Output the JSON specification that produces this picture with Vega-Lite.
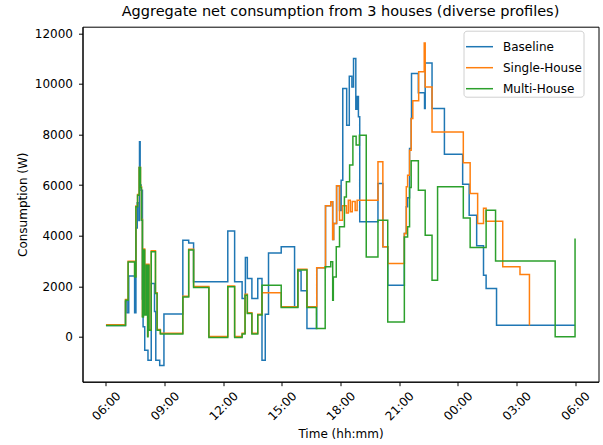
{
  "$schema": "https://vega.github.io/schema/vega-lite/v6.json",
  "width": 516,
  "height": 355,
  "autosize": {"type": "none"},
  "padding": {"left": 82.5, "top": 26.7, "right": 4.5, "bottom": 63.3},
  "background": "#ffffff",
  "title": {"text": "Aggregate net consumption from 3 houses (diverse profiles)", "fontSize": 14.5, "fontWeight": "normal", "font": "DejaVu Sans", "anchor": "middle", "offset": 7, "color": "#000000"},
  "data": {"values": [
    {"series": "Baseline", "time": "2024-01-01T06:00", "W": 450},
    {"series": "Baseline", "time": "2024-01-01T07:00", "W": 1400},
    {"series": "Baseline", "time": "2024-01-01T07:05", "W": 950},
    {"series": "Baseline", "time": "2024-01-01T07:10", "W": 2410},
    {"series": "Baseline", "time": "2024-01-01T07:28", "W": 950},
    {"series": "Baseline", "time": "2024-01-01T07:32", "W": 4300},
    {"series": "Baseline", "time": "2024-01-01T07:36", "W": 5300},
    {"series": "Baseline", "time": "2024-01-01T07:41", "W": 4600},
    {"series": "Baseline", "time": "2024-01-01T07:43", "W": 7710},
    {"series": "Baseline", "time": "2024-01-01T07:45", "W": 6000},
    {"series": "Baseline", "time": "2024-01-01T07:48", "W": 5800},
    {"series": "Baseline", "time": "2024-01-01T07:52", "W": 1500},
    {"series": "Baseline", "time": "2024-01-01T07:54", "W": 400},
    {"series": "Baseline", "time": "2024-01-01T07:59", "W": -525},
    {"series": "Baseline", "time": "2024-01-01T08:09", "W": -920},
    {"series": "Baseline", "time": "2024-01-01T08:19", "W": 2110},
    {"series": "Baseline", "time": "2024-01-01T08:29", "W": 1000},
    {"series": "Baseline", "time": "2024-01-01T08:33", "W": -920},
    {"series": "Baseline", "time": "2024-01-01T08:45", "W": -1134},
    {"series": "Baseline", "time": "2024-01-01T08:58", "W": 900},
    {"series": "Baseline", "time": "2024-01-01T09:56", "W": 3820},
    {"series": "Baseline", "time": "2024-01-01T10:14", "W": 3715},
    {"series": "Baseline", "time": "2024-01-01T10:29", "W": 2175},
    {"series": "Baseline", "time": "2024-01-01T12:14", "W": 4190},
    {"series": "Baseline", "time": "2024-01-01T12:35", "W": 2175},
    {"series": "Baseline", "time": "2024-01-01T12:58", "W": 1515},
    {"series": "Baseline", "time": "2024-01-01T13:08", "W": 3140},
    {"series": "Baseline", "time": "2024-01-01T13:14", "W": 2310},
    {"series": "Baseline", "time": "2024-01-01T13:28", "W": 1515},
    {"series": "Baseline", "time": "2024-01-01T13:46", "W": 2310},
    {"series": "Baseline", "time": "2024-01-01T13:59", "W": -920},
    {"series": "Baseline", "time": "2024-01-01T14:09", "W": 897},
    {"series": "Baseline", "time": "2024-01-01T14:19", "W": 3320},
    {"series": "Baseline", "time": "2024-01-01T14:58", "W": 3560},
    {"series": "Baseline", "time": "2024-01-01T15:39", "W": 1185},
    {"series": "Baseline", "time": "2024-01-01T15:49", "W": 2600},
    {"series": "Baseline", "time": "2024-01-01T15:59", "W": 1820},
    {"series": "Baseline", "time": "2024-01-01T16:17", "W": 330},
    {"series": "Baseline", "time": "2024-01-01T16:47", "W": 2730},
    {"series": "Baseline", "time": "2024-01-01T17:14", "W": 5180},
    {"series": "Baseline", "time": "2024-01-01T17:30", "W": 5340},
    {"series": "Baseline", "time": "2024-01-01T17:36", "W": 3850},
    {"series": "Baseline", "time": "2024-01-01T17:39", "W": 4480},
    {"series": "Baseline", "time": "2024-01-01T17:48", "W": 5970},
    {"series": "Baseline", "time": "2024-01-01T17:57", "W": 5000},
    {"series": "Baseline", "time": "2024-01-01T18:02", "W": 6190},
    {"series": "Baseline", "time": "2024-01-01T18:07", "W": 9820},
    {"series": "Baseline", "time": "2024-01-01T18:19", "W": 8370},
    {"series": "Baseline", "time": "2024-01-01T18:27", "W": 10300},
    {"series": "Baseline", "time": "2024-01-01T18:35", "W": 9880},
    {"series": "Baseline", "time": "2024-01-01T18:40", "W": 11000},
    {"series": "Baseline", "time": "2024-01-01T18:47", "W": 9000},
    {"series": "Baseline", "time": "2024-01-01T18:51", "W": 9500},
    {"series": "Baseline", "time": "2024-01-01T18:55", "W": 8700},
    {"series": "Baseline", "time": "2024-01-01T18:59", "W": 4550},
    {"series": "Baseline", "time": "2024-01-01T19:55", "W": 6060},
    {"series": "Baseline", "time": "2024-01-01T20:10", "W": 3560},
    {"series": "Baseline", "time": "2024-01-01T20:25", "W": 2045},
    {"series": "Baseline", "time": "2024-01-01T21:16", "W": 4090},
    {"series": "Baseline", "time": "2024-01-01T21:22", "W": 5140},
    {"series": "Baseline", "time": "2024-01-01T21:26", "W": 5500},
    {"series": "Baseline", "time": "2024-01-01T21:32", "W": 7450},
    {"series": "Baseline", "time": "2024-01-01T21:37", "W": 8630},
    {"series": "Baseline", "time": "2024-01-01T21:38", "W": 10410},
    {"series": "Baseline", "time": "2024-01-01T21:59", "W": 9650},
    {"series": "Baseline", "time": "2024-01-01T22:18", "W": 9030},
    {"series": "Baseline", "time": "2024-01-01T22:20", "W": 10830},
    {"series": "Baseline", "time": "2024-01-01T22:41", "W": 9030},
    {"series": "Baseline", "time": "2024-01-01T23:19", "W": 7220},
    {"series": "Baseline", "time": "2024-01-02T00:15", "W": 6030},
    {"series": "Baseline", "time": "2024-01-02T00:35", "W": 4810},
    {"series": "Baseline", "time": "2024-01-02T00:58", "W": 3600},
    {"series": "Baseline", "time": "2024-01-02T01:19", "W": 2440},
    {"series": "Baseline", "time": "2024-01-02T01:27", "W": 1910},
    {"series": "Baseline", "time": "2024-01-02T01:59", "W": 462},
    {"series": "Baseline", "time": "2024-01-02T06:00", "W": 462},

    {"series": "Single-House", "time": "2024-01-01T06:00", "W": 480},
    {"series": "Single-House", "time": "2024-01-01T07:00", "W": 1480},
    {"series": "Single-House", "time": "2024-01-01T07:08", "W": 2990},
    {"series": "Single-House", "time": "2024-01-01T07:28", "W": 2400},
    {"series": "Single-House", "time": "2024-01-01T07:32", "W": 5170},
    {"series": "Single-House", "time": "2024-01-01T07:37", "W": 5630},
    {"series": "Single-House", "time": "2024-01-01T07:42", "W": 6700},
    {"series": "Single-House", "time": "2024-01-01T07:46", "W": 5930},
    {"series": "Single-House", "time": "2024-01-01T07:49", "W": 4640},
    {"series": "Single-House", "time": "2024-01-01T07:52", "W": 820},
    {"series": "Single-House", "time": "2024-01-01T07:55", "W": 3470},
    {"series": "Single-House", "time": "2024-01-01T07:59", "W": 890},
    {"series": "Single-House", "time": "2024-01-01T08:04", "W": 2870},
    {"series": "Single-House", "time": "2024-01-01T08:08", "W": 30},
    {"series": "Single-House", "time": "2024-01-01T08:09", "W": 2870},
    {"series": "Single-House", "time": "2024-01-01T08:12", "W": 295},
    {"series": "Single-House", "time": "2024-01-01T08:19", "W": 3400},
    {"series": "Single-House", "time": "2024-01-01T08:32", "W": 1745},
    {"series": "Single-House", "time": "2024-01-01T08:37", "W": 295},
    {"series": "Single-House", "time": "2024-01-01T08:47", "W": 140},
    {"series": "Single-House", "time": "2024-01-01T09:56", "W": 1610},
    {"series": "Single-House", "time": "2024-01-01T10:14", "W": 3460},
    {"series": "Single-House", "time": "2024-01-01T10:29", "W": 1990},
    {"series": "Single-House", "time": "2024-01-01T11:16", "W": 10},
    {"series": "Single-House", "time": "2024-01-01T12:14", "W": 2010},
    {"series": "Single-House", "time": "2024-01-01T12:35", "W": 10},
    {"series": "Single-House", "time": "2024-01-01T12:58", "W": 140},
    {"series": "Single-House", "time": "2024-01-01T13:07", "W": 1680},
    {"series": "Single-House", "time": "2024-01-01T13:14", "W": 955},
    {"series": "Single-House", "time": "2024-01-01T13:28", "W": 140},
    {"series": "Single-House", "time": "2024-01-01T13:46", "W": 890},
    {"series": "Single-House", "time": "2024-01-01T13:59", "W": 1740},
    {"series": "Single-House", "time": "2024-01-01T14:58", "W": 1190},
    {"series": "Single-House", "time": "2024-01-01T15:49", "W": 2670},
    {"series": "Single-House", "time": "2024-01-01T16:17", "W": 1190},
    {"series": "Single-House", "time": "2024-01-01T16:47", "W": 2730},
    {"series": "Single-House", "time": "2024-01-01T17:14", "W": 5180},
    {"series": "Single-House", "time": "2024-01-01T17:30", "W": 5340},
    {"series": "Single-House", "time": "2024-01-01T17:36", "W": 3850},
    {"series": "Single-House", "time": "2024-01-01T17:39", "W": 4480},
    {"series": "Single-House", "time": "2024-01-01T17:48", "W": 5970},
    {"series": "Single-House", "time": "2024-01-01T17:57", "W": 4610},
    {"series": "Single-House", "time": "2024-01-01T18:06", "W": 5180},
    {"series": "Single-House", "time": "2024-01-01T18:18", "W": 4900},
    {"series": "Single-House", "time": "2024-01-01T18:24", "W": 5400},
    {"series": "Single-House", "time": "2024-01-01T18:30", "W": 4950},
    {"series": "Single-House", "time": "2024-01-01T18:36", "W": 5350},
    {"series": "Single-House", "time": "2024-01-01T18:45", "W": 5000},
    {"series": "Single-House", "time": "2024-01-01T18:51", "W": 5400},
    {"series": "Single-House", "time": "2024-01-01T19:55", "W": 6920},
    {"series": "Single-House", "time": "2024-01-01T20:10", "W": 3560},
    {"series": "Single-House", "time": "2024-01-01T20:25", "W": 2900},
    {"series": "Single-House", "time": "2024-01-01T21:16", "W": 4090},
    {"series": "Single-House", "time": "2024-01-01T21:22", "W": 5930},
    {"series": "Single-House", "time": "2024-01-01T21:26", "W": 6390},
    {"series": "Single-House", "time": "2024-01-01T21:32", "W": 7380},
    {"series": "Single-House", "time": "2024-01-01T21:37", "W": 8630},
    {"series": "Single-House", "time": "2024-01-01T21:42", "W": 9330},
    {"series": "Single-House", "time": "2024-01-01T22:00", "W": 10480},
    {"series": "Single-House", "time": "2024-01-01T22:17", "W": 11620},
    {"series": "Single-House", "time": "2024-01-01T22:20", "W": 9880},
    {"series": "Single-House", "time": "2024-01-01T22:41", "W": 8100},
    {"series": "Single-House", "time": "2024-01-02T00:17", "W": 6880},
    {"series": "Single-House", "time": "2024-01-02T00:38", "W": 5670},
    {"series": "Single-House", "time": "2024-01-02T01:01", "W": 4480},
    {"series": "Single-House", "time": "2024-01-02T01:19", "W": 5080},
    {"series": "Single-House", "time": "2024-01-02T01:27", "W": 4570},
    {"series": "Single-House", "time": "2024-01-02T02:18", "W": 2770},
    {"series": "Single-House", "time": "2024-01-02T03:11", "W": 2470},
    {"series": "Single-House", "time": "2024-01-02T03:40", "W": 450},

    {"series": "Multi-House", "time": "2024-01-01T06:00", "W": 450},
    {"series": "Multi-House", "time": "2024-01-01T07:00", "W": 1450},
    {"series": "Multi-House", "time": "2024-01-01T07:08", "W": 2960},
    {"series": "Multi-House", "time": "2024-01-01T07:28", "W": 2370},
    {"series": "Multi-House", "time": "2024-01-01T07:32", "W": 5140},
    {"series": "Multi-House", "time": "2024-01-01T07:37", "W": 5600},
    {"series": "Multi-House", "time": "2024-01-01T07:42", "W": 6700},
    {"series": "Multi-House", "time": "2024-01-01T07:46", "W": 5900},
    {"series": "Multi-House", "time": "2024-01-01T07:49", "W": 4610},
    {"series": "Multi-House", "time": "2024-01-01T07:52", "W": 790},
    {"series": "Multi-House", "time": "2024-01-01T07:55", "W": 3430},
    {"series": "Multi-House", "time": "2024-01-01T07:59", "W": 860},
    {"series": "Multi-House", "time": "2024-01-01T08:04", "W": 2835},
    {"series": "Multi-House", "time": "2024-01-01T08:08", "W": 0},
    {"series": "Multi-House", "time": "2024-01-01T08:09", "W": 2835},
    {"series": "Multi-House", "time": "2024-01-01T08:12", "W": 265},
    {"series": "Multi-House", "time": "2024-01-01T08:19", "W": 3360},
    {"series": "Multi-House", "time": "2024-01-01T08:32", "W": 1715},
    {"series": "Multi-House", "time": "2024-01-01T08:37", "W": 265},
    {"series": "Multi-House", "time": "2024-01-01T08:47", "W": 110},
    {"series": "Multi-House", "time": "2024-01-01T09:56", "W": 1580},
    {"series": "Multi-House", "time": "2024-01-01T10:14", "W": 3430},
    {"series": "Multi-House", "time": "2024-01-01T10:29", "W": 1950},
    {"series": "Multi-House", "time": "2024-01-01T11:16", "W": -25},
    {"series": "Multi-House", "time": "2024-01-01T12:14", "W": 1980},
    {"series": "Multi-House", "time": "2024-01-01T12:35", "W": -25},
    {"series": "Multi-House", "time": "2024-01-01T12:58", "W": 110},
    {"series": "Multi-House", "time": "2024-01-01T13:07", "W": 1650},
    {"series": "Multi-House", "time": "2024-01-01T13:14", "W": 925},
    {"series": "Multi-House", "time": "2024-01-01T13:28", "W": 110},
    {"series": "Multi-House", "time": "2024-01-01T13:46", "W": 860},
    {"series": "Multi-House", "time": "2024-01-01T13:59", "W": 2045},
    {"series": "Multi-House", "time": "2024-01-01T14:58", "W": 1160},
    {"series": "Multi-House", "time": "2024-01-01T15:49", "W": 2640},
    {"series": "Multi-House", "time": "2024-01-01T16:17", "W": 1160},
    {"series": "Multi-House", "time": "2024-01-01T16:46", "W": 330},
    {"series": "Multi-House", "time": "2024-01-01T17:13", "W": 2770},
    {"series": "Multi-House", "time": "2024-01-01T17:30", "W": 2965},
    {"series": "Multi-House", "time": "2024-01-01T17:36", "W": 1450},
    {"series": "Multi-House", "time": "2024-01-01T17:38", "W": 2370},
    {"series": "Multi-House", "time": "2024-01-01T17:47", "W": 3560},
    {"series": "Multi-House", "time": "2024-01-01T17:57", "W": 4350},
    {"series": "Multi-House", "time": "2024-01-01T18:12", "W": 5530},
    {"series": "Multi-House", "time": "2024-01-01T18:18", "W": 6130},
    {"series": "Multi-House", "time": "2024-01-01T18:28", "W": 6790},
    {"series": "Multi-House", "time": "2024-01-01T18:38", "W": 7930},
    {"series": "Multi-House", "time": "2024-01-01T18:48", "W": 7580},
    {"series": "Multi-House", "time": "2024-01-01T18:58", "W": 7970},
    {"series": "Multi-House", "time": "2024-01-01T19:19", "W": 3160},
    {"series": "Multi-House", "time": "2024-01-01T19:55", "W": 4610},
    {"series": "Multi-House", "time": "2024-01-01T20:25", "W": 590},
    {"series": "Multi-House", "time": "2024-01-01T21:16", "W": 3950},
    {"series": "Multi-House", "time": "2024-01-01T21:26", "W": 4350},
    {"series": "Multi-House", "time": "2024-01-01T21:32", "W": 5900},
    {"series": "Multi-House", "time": "2024-01-01T21:37", "W": 6960},
    {"series": "Multi-House", "time": "2024-01-01T21:59", "W": 5800},
    {"series": "Multi-House", "time": "2024-01-01T22:20", "W": 4020},
    {"series": "Multi-House", "time": "2024-01-01T22:41", "W": 2240},
    {"series": "Multi-House", "time": "2024-01-01T22:58", "W": 5930},
    {"series": "Multi-House", "time": "2024-01-02T00:17", "W": 4700},
    {"series": "Multi-House", "time": "2024-01-02T00:38", "W": 3530},
    {"series": "Multi-House", "time": "2024-01-02T01:27", "W": 5010},
    {"series": "Multi-House", "time": "2024-01-02T01:56", "W": 3000},
    {"series": "Multi-House", "time": "2024-01-02T04:59", "W": 0},
    {"series": "Multi-House", "time": "2024-01-02T06:00", "W": 3890}
  ]},
  "mark": {"type": "line", "interpolate": "step-after", "strokeWidth": 1.5, "clip": true},
  "encoding": {
    "x": {
      "field": "time", "type": "temporal",
      "scale": {"domain": [{"year": 2024, "month": 1, "date": 1, "hours": 4, "minutes": 48}, {"year": 2024, "month": 1, "date": 2, "hours": 7, "minutes": 12}]},
      "axis": {
        "title": "Time (hh:mm)", "format": "%H:%M",
        "values": [
          {"year": 2024, "month": 1, "date": 1, "hours": 6},
          {"year": 2024, "month": 1, "date": 1, "hours": 9},
          {"year": 2024, "month": 1, "date": 1, "hours": 12},
          {"year": 2024, "month": 1, "date": 1, "hours": 15},
          {"year": 2024, "month": 1, "date": 1, "hours": 18},
          {"year": 2024, "month": 1, "date": 1, "hours": 21},
          {"year": 2024, "month": 1, "date": 2, "hours": 0},
          {"year": 2024, "month": 1, "date": 2, "hours": 3},
          {"year": 2024, "month": 1, "date": 2, "hours": 6}
        ],
        "labelAngle": -45, "labelAlign": "center", "labelBaseline": "middle", "labelPadding": 20,
        "labelFlush": false, "labelOverlap": false,
        "titleY": 51.5, "titleBaseline": "middle"
      }
    },
    "y": {
      "field": "W", "type": "quantitative",
      "scale": {"domain": [-1772, 12261], "nice": false, "zero": false},
      "axis": {
        "title": "Consumption (W)", "values": [0, 2000, 4000, 6000, 8000, 10000, 12000], "format": "d",
        "labelPadding": 6, "titleX": -60.5, "titleY": 177.5, "titleAngle": -90, "titleAlign": "center", "titleBaseline": "middle"
      }
    },
    "color": {
      "field": "series", "type": "nominal",
      "scale": {"domain": ["Baseline", "Single-House", "Multi-House"], "range": ["#1f77b4", "#ff7f0e", "#2ca02c"]},
      "legend": {
        "title": null, "orient": "none", "legendX": 381, "legendY": 4,
        "symbolType": "stroke", "symbolSize": 729, "symbolStrokeWidth": 1.5,
        "labelFontSize": 12, "labelFont": "DejaVu Sans", "labelColor": "#000000", "labelOffset": 9,
        "padding": 1.5, "rowPadding": -2.5, "strokeColor": "#d0d0d0", "fillColor": "rgba(255,255,255,0.8)", "cornerRadius": 3
      }
    }
  },
  "config": {
    "font": "DejaVu Sans",
    "view": {"stroke": "#000000", "strokeWidth": 1},
    "axis": {
      "domainColor": "#000000", "tickColor": "#000000", "labelColor": "#000000", "titleColor": "#000000",
      "labelFontSize": 12, "titleFontSize": 12, "titleFontWeight": "normal", "tickSize": 4, "grid": false,
      "labelFont": "DejaVu Sans", "titleFont": "DejaVu Sans"
    }
  }
}
